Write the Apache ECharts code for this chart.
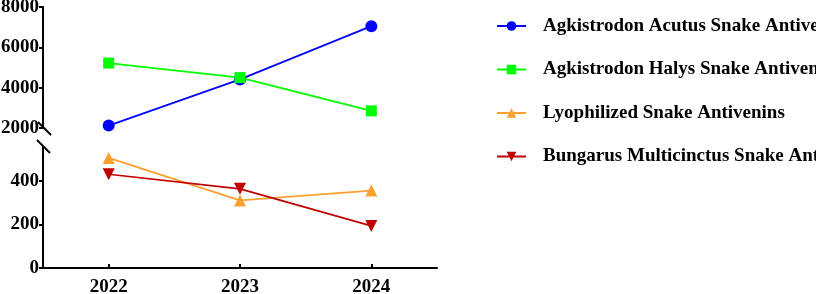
<!DOCTYPE html>
<html>
<head>
<meta charset="utf-8">
<script src="https://cdn.jsdelivr.net/npm/echarts@6.0.0/dist/echarts.min.js"></script>
<style>
  html, body { margin: 0; padding: 0; background: #fff; }
  #chart { width: 816px; height: 294px; }
</style>
</head>
<body>
<div id="chart"></div>
<script>
const years = ['2022', '2023', '2024'];
const acutus = [2120, 4410, 7050];
const halys = [5220, 4500, 2850];
const lyophilized = [505, 310, 355];
const bungarus = [430, 363, 193];
const upperTicks = [2000, 4000, 6000, 8000];
const lowerTicks = [0, 200, 400];

const font = 'Liberation Serif';
const labelStyle = { color: '#000', fontFamily: font, fontWeight: 'bold', fontSize: 19 };
const axisLine = { show: true, lineStyle: { color: '#000', width: 2 } };

const lineSeries = (name, data, idx, color, symbol, extra) => Object.assign({
    name: name,
    type: 'line',
    xAxisIndex: idx,
    yAxisIndex: idx,
    data: data,
    symbol: symbol,
    symbolSize: 12,
    lineStyle: { color: color, width: 1.7 },
    itemStyle: { color: color },
    emphasis: { disabled: true },
    animation: false,
}, extra || {});

const option = {
    backgroundColor: '#fff',
    legend: {
        orient: 'vertical',
        left: 491,
        top: 11,
        itemWidth: 29,
        itemHeight: 12,
        itemGap: 23.5,
        textStyle: Object.assign({}, labelStyle, { padding: [0, 0, 0, 12], lineHeight: 20 }),
        data: [
            'Agkistrodon Acutus Snake Antivenins',
            'Agkistrodon Halys Snake Antivenins',
            'Lyophilized Snake Antivenins',
            'Bungarus Multicinctus Snake Antivenins'
        ]
    },
    grid: [
        { left: 43, top: 7, width: 394, height: 121, outerBoundsMode: 'none' },
        { left: 43, top: 147, width: 394, height: 121, outerBoundsMode: 'none' }
    ],
    xAxis: [
        {
            type: 'category', gridIndex: 0, data: years,
            axisLine: { show: false }, axisTick: { show: false }, axisLabel: { show: false }
        },
        {
            type: 'category', gridIndex: 1, data: years,
            axisLine: axisLine,
            axisTick: { show: true, inside: true, length: 4, alignWithLabel: true, lineStyle: { color: '#000', width: 2 } },
            axisLabel: Object.assign({}, labelStyle, { margin: 10 })
        }
    ],
    yAxis: [
        {
            type: 'value', gridIndex: 0, min: 2000, max: 8000, interval: 2000,
            axisLine: axisLine,
            axisTick: { show: true, length: 4, lineStyle: { color: '#000', width: 2 } },
            axisLabel: Object.assign({}, labelStyle, { margin: 4, customValues: upperTicks, formatter: (v) => String(v) }),
            splitLine: { show: false }
        },
        {
            type: 'value', gridIndex: 1, min: 0, max: 555, interval: 200,
            axisLine: axisLine,
            axisTick: { show: true, length: 4, customValues: lowerTicks, lineStyle: { color: '#000', width: 2 } },
            axisLabel: Object.assign({}, labelStyle, { margin: 4, customValues: lowerTicks, formatter: (v) => String(v) }),
            splitLine: { show: false }
        }
    ],
    graphic: [
        { type: 'line', shape: { x1: 38, y1: 122, x2: 51, y2: 135 }, style: { stroke: '#000', lineWidth: 2 } },
        { type: 'line', shape: { x1: 37, y1: 140, x2: 50, y2: 153 }, style: { stroke: '#000', lineWidth: 2 } }
    ],
    series: [
        lineSeries('Agkistrodon Acutus Snake Antivenins', acutus, 0, '#0000FF', 'circle'),
        lineSeries('Agkistrodon Halys Snake Antivenins', halys, 0, '#00FF00', 'rect', { symbolSize: 11 }),
        lineSeries('Lyophilized Snake Antivenins', lyophilized, 1, '#FF9F30', 'triangle'),
        lineSeries('Bungarus Multicinctus Snake Antivenins', bungarus, 1, '#C00000', 'triangle', { symbolRotate: 180 })
    ]
};

const myChart = echarts.init(document.getElementById('chart'));
myChart.setOption(option);
</script>
</body>
</html>
